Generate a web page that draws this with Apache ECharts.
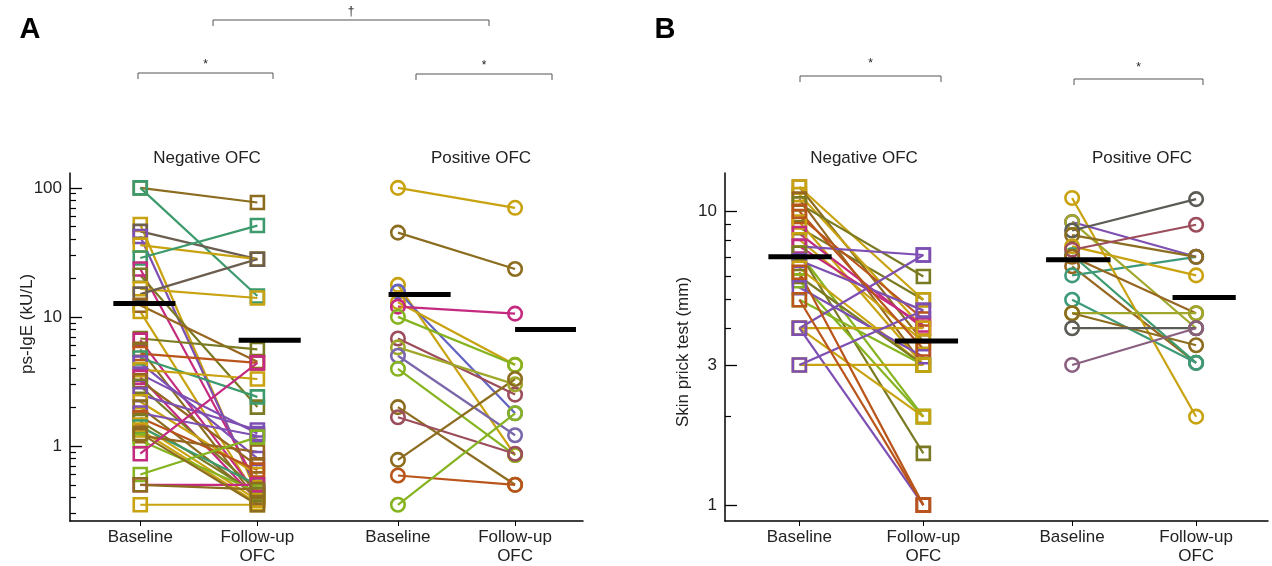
<!DOCTYPE html>
<html>
<head>
<meta charset="utf-8">
<script src="https://cdn.jsdelivr.net/npm/echarts@6/dist/echarts.min.js"></script>
<style>
  html, body { margin: 0; padding: 0; background: #fff; }
  #chart { width: 1272px; height: 566px; }
</style>
</head>
<body>
<div id="chart"></div>
<script>
// colours used for the individual patients
const OL = '#8c6d1f', GR = '#3c9a6c', GD = '#c9a20f', GB = '#6b5d4f', PU = '#7d4fb3',
      MG = '#c42a7f', OG = '#7a7a22', YG = '#85b420', RU = '#b9541a', BR = '#96651f',
      RB = '#9c4d5c', LV = '#7a66aa', BL = '#6262c2', DG = '#5c5c56', MV = '#8a5f80',
      TL = '#3f9a7a', YO = '#9fa82a';

const xLabels = ['Baseline', 'Follow-up\nOFC', 'Baseline', 'Follow-up\nOFC'];
const xPos = [1, 2, 3.2, 4.2];

// A: ps-IgE (kU/L)  (drawing order = array order)
const igeNegBase   = [0.35, 100, 100, 52, 46, 42, 36, 28.6, 23.5, 21, 16.5, 15, 12.3, 11, 6.8, 6.6, 5.6, 5.2, 4.8, 4.4, 3.9, 3.6, 3.4, 3.2, 2.9, 2.5, 2.2, 2.0, 1.8, 1.65, 1.55, 1.45, 1.4, 1.33, 1.2, 1.1, 0.87, 0.6, 0.5, 0.5, 1.25];
const igeNegFollow = [0.35, 77, 14.5, 0.42, 28, 0.45, 28, 51, 0.5, 2.0, 14, 28, 4.5, 0.4, 5.6, 0.42, 0.38, 4.4, 2.4, 0.8, 3.3, 1.25, 0.38, 0.7, 0.45, 1.33, 0.6, 0.4, 1.2, 0.65, 0.42, 0.38, 0.5, 0.36, 0.9, 0.44, 4.4, 1.17, 0.5, 0.46, 0.35];
const igeNegColor  = [GD, OL, GR, GD, GB, PU, GD, GR, MG, OG, GD, GB, BR, GD, OG, MG, OL, RU, GR, PU, GD, PU, MG, BR, OG, PU, GD, OL, PU, RU, OG, GD, GR, GD, BR, YG, MG, YG, MG, OL, OL];

const igePosBase   = [100, 45, 17.7, 15.7, 13, 12, 10, 6.8, 5.8, 5.0, 3.96, 2.0, 1.67, 0.78, 0.59, 0.35];
const igePosFollow = [70, 23.5, 0.85, 1.79, 4.25, 10.6, 4.25, 2.5, 3.0, 1.21, 0.85, 0.5, 0.87, 3.3, 0.5, 1.79];
const igePosColor  = [GD, OL, GD, BL, GD, MG, YG, RB, YO, LV, YG, OL, RB, OL, RU, YG];

const igeMeans = [12.7, 6.6, 14.9, 8.0];

// B: skin prick test (mm)
const sptNegBase   = [12.1, 8.8, 12.1, 11.4, 11.0, 10.6, 9.6, 9.2, 8.4, 8.0, 7.6, 7.6, 7.2, 7.2, 6.8, 6.4, 6.0, 5.8, 5.5, 5.0, 4.0, 4.0, 4.0, 4.0, 3.0, 3.0, 10.0, 6.2, 5.0];
const sptNegFollow = [3.6, 5.0, 5.0, 4.0, 3.0, 6.0, 4.3, 3.0, 4.0, 3.6, 7.1, 4.1, 2.0, 1.5, 4.6, 3.0, 3.0, 2.0, 3.2, 3.0, 4.0, 7.1, 2.0, 1.0, 3.0, 4.6, 3.4, 1.0, 1.0];
const sptNegColor  = [OL, OG, GD, GD, BR, OG, RU, GD, MG, GD, PU, MG, YG, OG, PU, GD, OG, YG, PU, YG, GD, PU, GD, PU, GD, PU, RU, RU, RU];

const sptPosBase   = [6.5, 7.1, 6.05, 5.0, 11.1, 9.2, 9.2, 8.6, 8.3, 7.6, 7.4, 7.0, 4.5, 4.5, 4.0, 3.0];
const sptPosFollow = [3.05, 3.05, 7.0, 3.05, 2.0, 7.0, 4.0, 11.0, 7.0, 6.05, 9.0, 4.5, 4.5, 3.5, 4.0, 4.0];
const sptPosColor  = [BR, GR, TL, TL, GD, PU, YO, DG, OL, GD, RB, BR, YO, OL, DG, MV];

const sptMeans = [7.0, 3.62, 6.84, 5.09];

// left/right reach of the mean bars around each x position (axis units)
const igeBarSpan = [[-0.23, 0.30], [-0.16, 0.37], [-0.08, 0.45], [0, 0.52]];
const sptBarSpan = [[-0.25, 0.26], [-0.23, 0.28], [-0.21, 0.31], [-0.19, 0.32]];

const FONT = 'Liberation Sans, Arial, sans-serif';
const TXT = '#222';

function pairSeries(base, follow, cols, x0, x1, grid, symbol) {
  return base.map((b, i) => ({
    type: 'line',
    xAxisIndex: grid,
    yAxisIndex: grid * 2,
    data: [[x0, b], [x1, follow[i]]],
    symbol: symbol,
    symbolSize: symbol === 'rect' ? 13 : 13.5,
    lineStyle: { color: cols[i], width: 2.2 },
    itemStyle: { color: 'transparent', borderColor: cols[i], borderWidth: 2.6 },
    silent: true,
    z: 2
  }));
}

function meanSeries(means, span, grid) {
  return means.map((m, i) => ({
    type: 'line',
    xAxisIndex: grid,
    yAxisIndex: grid * 2,
    data: [[xPos[i] + span[i][0], m], [xPos[i] + span[i][1], m]],
    symbol: 'none',
    lineStyle: { color: '#000', width: 5, cap: 'butt' },
    silent: true,
    z: 10
  }));
}

function xAxis(grid) {
  return {
    type: 'value', gridIndex: grid, min: 0.4, max: 4.78,
    axisLine: { lineStyle: { color: '#000', width: 1.5 } },
    axisTick: { customValues: xPos, length: 5, lineStyle: { color: '#000' } },
    axisLabel: {
      customValues: xPos, margin: 7, color: TXT, fontFamily: FONT, fontSize: 17, lineHeight: 19,
      formatter: v => xLabels[xPos.findIndex(p => Math.abs(p - v) < 1e-6)] || ''
    },
    splitLine: { show: false }
  };
}

function yAxes(grid, min, max, major, minor) {
  return [{
    type: 'log', logBase: 10, gridIndex: grid, min: min, max: max, position: 'left',
    axisLine: { show: true, lineStyle: { color: '#000', width: 1.5 } },
    axisTick: { show: true, inside: true, length: 12, customValues: major, lineStyle: { color: '#000', width: 1.3 } },
    axisLabel: {
      customValues: major, margin: 8, color: TXT, fontFamily: FONT, fontSize: 17,
      formatter: v => String(Math.round(v * 1000) / 1000)
    },
    splitLine: { show: false }
  }, {
    type: 'log', logBase: 10, gridIndex: grid, min: min, max: max, position: 'left',
    axisLine: { show: false },
    axisTick: { show: true, inside: true, length: 6, customValues: minor, lineStyle: { color: '#000', width: 1.2 } },
    axisLabel: { show: false },
    splitLine: { show: false }
  }];
}

function bracket(x1, x2, y, mark, markY) {
  return [{
    type: 'polyline',
    shape: { points: [[x1, y + 6], [x1, y], [x2, y], [x2, y + 6]] },
    style: { stroke: '#555', lineWidth: 1, fill: null }
  }, {
    type: 'text', x: (x1 + x2) / 2, y: markY,
    style: { text: mark, align: 'center', verticalAlign: 'middle', fontFamily: FONT, fontSize: 12, fill: TXT }
  }];
}

function label(text, x, y, size, weight, rot) {
  return {
    type: 'text', x: x, y: y, rotation: rot || 0,
    style: { text: text, align: 'center', verticalAlign: 'middle', fontFamily: FONT, fontSize: size, fontWeight: weight || 'normal', fill: weight ? '#000' : TXT }
  };
}

const igeMinor = [0.3, 0.4, 0.5, 0.6, 0.7, 0.8, 0.9, 2, 3, 4, 5, 6, 7, 8, 9, 20, 30, 40, 50, 60, 70, 80, 90];
const sptMinor = [2, 4, 5, 6, 7, 8, 9];

const chart = echarts.init(document.getElementById('chart'), null, { renderer: 'canvas' });
chart.setOption({
  animation: false,
  backgroundColor: '#fff',
  grid: [
    { left: 70, top: 173, width: 513, height: 352 },
    { left: 725, top: 173, width: 543, height: 352 }
  ],
  xAxis: [xAxis(0), xAxis(1)],
  yAxis: [].concat(
    yAxes(0, 0.262, 130.3, [1, 10, 100], igeMinor),
    yAxes(1, 0.883, 13.5, [1, 3, 10], sptMinor)
  ),
  series: [].concat(
    pairSeries(igeNegBase, igeNegFollow, igeNegColor, xPos[0], xPos[1], 0, 'rect'),
    pairSeries(igePosBase, igePosFollow, igePosColor, xPos[2], xPos[3], 0, 'circle'),
    pairSeries(sptNegBase, sptNegFollow, sptNegColor, xPos[0], xPos[1], 1, 'rect'),
    pairSeries(sptPosBase, sptPosFollow, sptPosColor, xPos[2], xPos[3], 1, 'circle'),
    meanSeries(igeMeans, igeBarSpan, 0),
    meanSeries(sptMeans, sptBarSpan, 1)
  ),
  graphic: [].concat(
    label('A', 30, 30, 29, 'bold'),
    label('B', 665, 30, 29, 'bold'),
    label('Negative OFC', 207, 158, 17),
    label('Positive OFC', 481, 158, 17),
    label('Negative OFC', 864, 158, 17),
    label('Positive OFC', 1142, 158, 17),
    label('ps-IgE (kU/L)', 27, 324, 17, null, Math.PI / 2),
    label('Skin prick test (mm)', 683, 352, 17, null, Math.PI / 2),
    bracket(213, 489, 20, '\u2020', 12),
    bracket(138, 273, 73, '*', 65),
    bracket(416, 552, 74, '*', 66),
    bracket(800, 941, 76, '*', 64),
    bracket(1074, 1203, 79, '*', 68)
  )
});
</script>
</body>
</html>
